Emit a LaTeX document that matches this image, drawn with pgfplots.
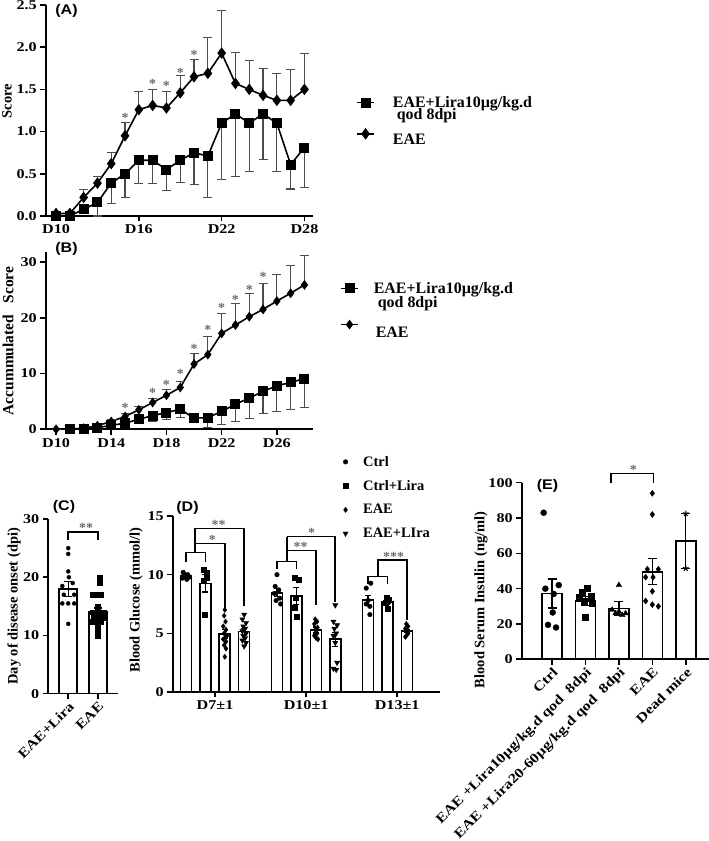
\documentclass[border=0pt]{standalone}
\usepackage{pgfplots}
\pgfplotsset{compat=1.18}
\usepackage{fontspec}
\setmainfont{Liberation Serif}
\newfontfamily\tickfont{Liberation Serif}[FakeStretch=1.2]
\newfontfamily\arialfont{Liberation Sans}[FakeStretch=1.15]
\definecolor{stargray}{gray}{0.42}
\definecolor{errgray}{gray}{0.3}
\newcommand{\tf}{\tickfont\bfseries\fontsize{13.5}{13.5}\selectfont}
\newcommand{\lf}{\bfseries\fontsize{14.5}{15}\selectfont}
\newcommand{\legf}{\bfseries\fontsize{16}{16}\selectfont}
\newcommand{\pf}{\arialfont\bfseries\fontsize{14}{14}\selectfont}
\tikzset{
  sstar/.style={text=stargray, font=\bfseries\fontsize{14}{14}\selectfont, inner sep=0pt},
  brk/.style={line width=1.6bp, black},
}
\pgfplotsset{
  gp/.style={
    scale only axis, anchor=south west,
    axis lines*=left,
    axis line style={line width=1.6bp,-},
    every tick/.style={black,line width=1.6bp},
    tick align=outside,
    major tick length=5.5bp,
    clip=false,
    /pgf/number format/assume math mode=true,
    tick label style={font=\tf},
    label style={font=\lf},
    legend style={draw=none,fill=none,font=\lf},
    legend cell align=left,
  },
  ebar/.style={/pgfplots/error bars/y explicit, /pgfplots/error bars/y dir=#1,
    /pgfplots/error bars/error bar style={line width=1.1bp, errgray},
    /pgfplots/error bars/error mark options={line width=1.1bp, errgray, mark size=4.5bp, rotate=90}},
  kbar/.style={/pgfplots/error bars/y explicit, /pgfplots/error bars/y dir=both,
    /pgfplots/error bars/error bar style={line width=1.3bp, black},
    /pgfplots/error bars/error mark options={line width=1.3bp, black, mark size=#1, rotate=90}},
  wbar/.style={ybar, bar shift=0pt, bar width=#1, fill=white, draw=black, line width=1.6bp},
}
\begin{document}
\begin{tikzpicture}
\path[use as bounding box] (0,0) rectangle (709bp,841bp);

% ---------------- Panel A ----------------
\begin{axis}[gp, at={(45.7bp,625bp)}, width=267.3bp, height=211bp,
  xmin=9.25, xmax=28.62, ymin=0, ymax=2.5,
  xtick={10,16,22,28}, xticklabels={D10,D16,D22,D28},
  ytick={0,0.5,1,1.5,2,2.5}, yticklabels={0.0,0.5,1.0,1.5,2.0,2.5},
  ylabel={Score}, ylabel style={at={(axis description cs:-0.145,0.545)}, anchor=center},
  legend style={at={(1.15,0.578)}, anchor=north west, font=\legf, row sep=0bp, column sep=10bp, nodes={inner sep=0pt}},
]
\addplot[black, line width=1.6bp, mark=square*, mark size=4.2bp, ebar=minus] coordinates {
(10,0.0) +- (0,0) (11,0.0) +- (0,0) (12,0.08) +- (0,0) (13,0.16) +- (0,0.16)
(14,0.39) +- (0,0.24) (15,0.50) +- (0,0.28) (16,0.66) +- (0,0.27) (17,0.66) +- (0,0.27)
(18,0.55) +- (0,0.25) (19,0.66) +- (0,0.26) (20,0.75) +- (0,0.38) (21,0.71) +- (0,0.49)
(22,1.10) +- (0,0.67) (23,1.21) +- (0,0.74) (24,1.10) +- (0,0.57) (25,1.21) +- (0,0.54)
(26,1.10) +- (0,0.57) (27,0.61) +- (0,0.29) (28,0.81) +- (0,0.47)};
\addlegendentry{\hspace*{8bp}EAE+Lira10µg/kg.d}
\addlegendimage{empty legend}
\addlegendentry{\hspace*{8bp}\ qod 8dpi}
\addplot[black, line width=1.6bp, mark=diamond*, mark size=4.5bp, ebar=plus] coordinates {
(10,0.03) +- (0,0) (11,0.03) +- (0,0) (12,0.22) +- (0,0.09) (13,0.39) +- (0,0.08)
(14,0.62) +- (0,0.13) (15,0.95) +- (0,0.16) (16,1.26) +- (0,0.21) (17,1.31) +- (0,0.19)
(18,1.28) +- (0,0.20) (19,1.46) +- (0,0.20) (20,1.65) +- (0,0.20) (21,1.69) +- (0,0.42)
(22,1.93) +- (0,0.50) (23,1.57) +- (0,0.37) (24,1.50) +- (0,0.34) (25,1.43) +- (0,0.32)
(26,1.37) +- (0,0.32) (27,1.37) +- (0,0.37) (28,1.50) +- (0,0.42)};
\addlegendentry{\rule{0pt}{23.5bp}\hspace*{8bp}EAE}
\node[sstar] at (axis cs:15,1.16) {*};
\node[sstar] at (axis cs:17,1.56) {*};
\node[sstar] at (axis cs:18,1.54) {*};
\node[sstar] at (axis cs:19,1.70) {*};
\node[sstar] at (axis cs:20,1.91) {*};
\end{axis}

% ---------------- Panel B ----------------
\begin{axis}[gp, at={(45.7bp,411.7bp)}, width=267.3bp, height=177.3bp,
  xmin=9.25, xmax=28.62, ymin=0, ymax=31.8,
  xtick={10,14,18,22,26}, xticklabels={D10,D14,D18,D22,D26},
  ytick={0,10,20,30},
  ylabel={Accummulated\ \ \ Score}, ylabel style={font=\bfseries\fontsize{15.5}{16}\selectfont, at={(axis description cs:-0.141,0.498)}, anchor=center},
  legend style={at={(1.09,0.842)}, anchor=north west, font=\legf, row sep=1.5bp, column sep=11bp, nodes={inner sep=0pt}},
]
\addplot[black, line width=1.6bp, mark=square*, mark size=4.2bp, ebar=minus] coordinates {
(11,0) +- (0,0) (12,0.1) +- (0,0) (13,0.3) +- (0,0) (14,0.7) +- (0,0.3)
(15,1.1) +- (0,0.5) (16,1.8) +- (0,0.7) (17,2.45) +- (0,1.05) (18,3.0) +- (0,1.3)
(19,3.6) +- (0,1.5) (20,2.0) +- (0,0.8) (21,2.1) +- (0,1.8) (22,3.2) +- (0,2.3)
(23,4.5) +- (0,3.1) (24,5.6) +- (0,3.6) (25,6.8) +- (0,3.9) (26,7.8) +- (0,4.6)
(27,8.4) +- (0,4.8) (28,9.1) +- (0,5.2)};
\addlegendentry{\hspace*{4bp}EAE+Lira10µg/kg.d}
\addlegendimage{empty legend}
\addlegendentry{\hspace*{4bp}\ qod 8dpi}
\addplot[black, line width=1.6bp, mark=diamond*, mark size=3.6bp, ebar=plus] coordinates {
(10,0) +- (0,0) (11,0.05) +- (0,0) (12,0.2) +- (0,0) (13,0.65) +- (0,0.2)
(14,1.4) +- (0,0.3) (15,2.3) +- (0,0.6) (16,3.5) +- (0,0.6) (17,4.8) +- (0,0.8)
(18,6.1) +- (0,1.0) (19,7.5) +- (0,1.0) (20,11.7) +- (0,1.9) (21,13.4) +- (0,3.2)
(22,17.2) +- (0,3.6) (23,18.7) +- (0,3.9) (24,20.2) +- (0,4.2) (25,21.5) +- (0,4.6)
(26,23.0) +- (0,4.7) (27,24.4) +- (0,5.0) (28,25.9) +- (0,5.3)};
\addlegendentry{\rule{0pt}{27bp}\hspace*{6bp}EAE}
\node[sstar] at (axis cs:15,3.8) {*};
\node[sstar] at (axis cs:17,6.5) {*};
\node[sstar] at (axis cs:18,8.0) {*};
\node[sstar] at (axis cs:19,10.0) {*};
\node[sstar] at (axis cs:20,14.5) {*};
\node[sstar] at (axis cs:21,17.8) {*};
\node[sstar] at (axis cs:22,21.8) {*};
\node[sstar] at (axis cs:23,23.2) {*};
\node[sstar] at (axis cs:24,25.0) {*};
\node[sstar] at (axis cs:25,27.4) {*};
\end{axis}

% ---------------- Panel C ----------------
\begin{axis}[gp, at={(48.3bp,147.3bp)}, width=69.7bp, height=174.7bp,
  xmin=-0.67, xmax=1.67, ymin=0, ymax=30,
  xtick={0,1}, xticklabels={EAE+Lira,EAE},
  xticklabel style={rotate=45, anchor=north east, inner sep=1bp},
  ytick={0,10,20,30},
  ylabel={Day of disease onset (dpi)}, ylabel style={at={(axis description cs:-0.49,0.5)}, anchor=center},
]
\addplot[wbar=18bp, kbar=4bp] coordinates {(0,18) +- (0,1.3) (1,14) +- (0,0.7)};
\addplot[only marks, mark=*, mark size=2bp, black] coordinates {
(0,25) (0,24) (0,21) (0.02,20) (-0.2,18.5) (0.15,19) (-0.15,17) (0.2,17)
(-0.2,15.5) (0,15.5) (0.2,15.5) (0,12)};
\addplot[only marks, mark=square*, mark size=2.4bp, black] coordinates {
(1.05,20) (1.05,19) (0.82,17) (0.96,17) (1.1,17) (1.0,15) (0.82,14) (0.94,14) (1.06,14) (1.18,14)
(0.85,13) (1.0,13) (1.15,13) (0.82,12.3) (0.96,12.3) (1.1,12.3) (1.0,12) (1.0,11) (1.0,10)};
\draw[brk] (axis cs:0,26.4) -- (axis cs:0,27.8) -- (axis cs:1,27.8) -- (axis cs:1,26.4);
\node[sstar] at (axis cs:0.6,28.5) {**};
\end{axis}

% ---------------- Panel D ----------------
\begin{axis}[gp, at={(172.7bp,149bp)}, width=267.3bp, height=176bp,
  xmin=-0.465, xmax=2.47, ymin=0, ymax=15,
  xtick={0,1,2}, xticklabels={D7±1,D10±1,D13±1},
  ytick={0,5,10,15},
  ylabel={Blood Glucose (mmol/l)}, ylabel style={at={(axis description cs:-0.137,0.523)}, anchor=center},
  legend style={at={(0.625,1.364)}, anchor=north west, row sep=8.6bp, column sep=13bp},
]
\addplot[wbar=11bp, kbar=3bp, forget plot] coordinates {(-0.32,9.9) +- (0,0.15) (0.68,8.46) +- (0,0.35) (1.68,7.84) +- (0,0.4)};
\addplot[wbar=11bp, kbar=3bp, forget plot] coordinates {(-0.107,9.26) +- (0,0.75) (0.893,8.18) +- (0,0.7) (1.893,7.7) +- (0,0.2)};
\addplot[wbar=11bp, kbar=3bp, forget plot] coordinates {(0.107,4.95) +- (0,0.35) (1.107,5.28) +- (0,0.25) (2.107,5.2) +- (0,0.15)};
\addplot[wbar=11bp, kbar=3bp, forget plot] coordinates {(0.32,5.15) +- (0,0.27) (1.32,4.5) +- (0,0.6)};
\addplot[only marks, mark=*, mark size=2.3bp, black] coordinates {
(-0.35,10.2) (-0.3,10.0) (-0.33,9.9) (-0.28,9.8) (-0.36,9.7) (-0.31,9.6) (-0.34,10.05)
(0.68,10.0) (0.66,9.0) (0.7,8.7) (0.65,8.4) (0.71,8.0) (0.67,7.8) (0.72,7.5)
(1.66,8.85) (1.71,9.27) (1.68,7.8) (1.7,7.3) (1.66,7.5) (1.7,6.6)};
\addlegendentry{Ctrl}
\addplot[only marks, mark=square*, mark size=2.5bp, black] coordinates {
(-0.13,10.4) (-0.09,10.2) (-0.09,9.7) (-0.12,9.5) (-0.11,6.6)
(0.87,9.75) (0.92,9.6) (0.89,8.0) (0.88,7.2) (0.9,6.4)
(1.88,8.0) (1.91,7.9) (1.9,7.8) (1.87,7.6) (1.9,7.1)};
\addlegendentry{Ctrl+Lira}
\addplot[only marks, mark=diamond*, mark size=2.6bp, black] coordinates {
(0.107,7.0) (0.1,6.5) (0.115,6.0) (0.09,5.6) (0.12,5.3) (0.1,5.0) (0.13,4.8) (0.09,4.5) (0.12,4.3) (0.1,4.0) (0.12,3.7) (0.107,3.0)
(1.1,6.2) (1.12,6.0) (1.09,5.8) (1.125,5.5) (1.1,5.3) (1.12,5.0) (1.09,4.8) (1.11,4.6) (1.13,4.5)
(2.1,5.8) (2.12,5.6) (2.09,5.4) (2.11,5.2) (2.12,5.0) (2.1,4.8) (2.09,4.7)};
\addlegendentry{EAE}
\addplot[only marks, mark=triangle*, mark options={rotate=180}, mark size=3bp, black] coordinates {
(0.32,6.6) (0.3,6.2) (0.34,5.9) (0.31,5.6) (0.33,5.4) (0.3,5.2) (0.34,5.0) (0.31,4.8) (0.33,4.6) (0.3,4.4) (0.34,4.2) (0.32,3.9)
(1.32,7.4) (1.3,6.0) (1.34,5.7) (1.31,5.4) (1.33,5.0) (1.3,4.8) (1.32,4.2) (1.34,2.5) (1.3,2.0) (1.33,1.9)};
\addlegendentry{EAE+LIra}
% brackets group 1
\draw[brk] (axis cs:-0.32,11.1) -- (axis cs:-0.32,11.88) -- (axis cs:-0.107,11.88) -- (axis cs:-0.107,11.1);
\draw[brk] (axis cs:-0.22,11.88) -- (axis cs:-0.22,13.95);
\draw[brk] (axis cs:-0.22,12.67) -- (axis cs:0.107,12.67) -- (axis cs:0.107,7.15);
\draw[brk] (axis cs:-0.22,13.95) -- (axis cs:0.32,13.95) -- (axis cs:0.32,7.3);
\node[sstar] at (axis cs:-0.03,12.95) {*};
\node[sstar] at (axis cs:0.04,14.25) {**};
% group 2
\draw[brk] (axis cs:0.68,10.46) -- (axis cs:0.68,11.11) -- (axis cs:0.893,11.11) -- (axis cs:0.893,10.46);
\draw[brk] (axis cs:0.787,11.11) -- (axis cs:0.787,13.24);
\draw[brk] (axis cs:0.787,12.05) -- (axis cs:1.107,12.05) -- (axis cs:1.107,7.42);
\draw[brk] (axis cs:0.787,13.24) -- (axis cs:1.32,13.24) -- (axis cs:1.32,7.7);
\node[sstar] at (axis cs:0.94,12.35) {**};
\node[sstar] at (axis cs:1.06,13.55) {*};
% group 3
\draw[brk] (axis cs:1.68,9.2) -- (axis cs:1.68,9.83) -- (axis cs:1.893,9.83) -- (axis cs:1.893,9.2);
\draw[brk] (axis cs:1.787,9.83) -- (axis cs:1.787,11.25) -- (axis cs:2.107,11.25) -- (axis cs:2.107,6.14);
\node[sstar] at (axis cs:1.96,11.55) {***};
\end{axis}

% ---------------- Panel E ----------------
\begin{axis}[gp, at={(521.7bp,181.7bp)}, width=187.3bp, height=176.6bp,
  xmin=-0.907, xmax=4.695, ymin=0, ymax=100,
  xtick={0,1,2,3,4},
  xticklabels={Ctrl,{EAE +Lira10µg/kg.d qod\ \ 8dpi},{EAE +Lira20-60µg/kg.d qod\ \ 8dpi},EAE,{Dead mice}},
  xticklabel style={rotate=45, anchor=north east, inner sep=1bp},
  ytick={0,20,40,60,80,100},
  ylabel={Blood Serum Insulin (ng/ml)}, ylabel style={at={(axis description cs:-0.217,0.336)}, anchor=center},
]
\addplot[wbar=20bp, kbar=4.5bp] coordinates {(0,37.3) +- (0,8.2) (1,33) +- (0,2.5) (2,28.8) +- (0,3.8) (3,49.6) +- (0,7.3) (4,67.1) +- (0,15.5)};
\addplot[only marks, mark=*, mark size=3bp, black] coordinates {
(-0.25,83) (-0.2,40) (0.2,42) (0.05,37) (0.02,26.5) (-0.12,19.5) (0.12,18)};
\addplot[only marks, mark=square*, mark size=3bp, black] coordinates {
(1.05,40) (0.9,38) (0.82,35) (1.18,36) (1.2,32) (0.95,33) (1.0,24)};
\addplot[only marks, mark=triangle*, mark size=3.2bp, black] coordinates {
(2.0,42) (1.8,28) (2.0,27) (2.2,26) (1.9,26) (2.1,25)};
\addplot[only marks, mark=diamond*, mark size=3bp, black] coordinates {
(3,94) (3,82) (2.85,51) (3.18,51) (2.8,46.5) (3.02,46.5) (3.0,38.5) (2.8,33) (3.0,31) (3.18,30)};
\addplot[only marks, mark=star, mark size=3bp, line width=1bp, black] coordinates {(4,82.5) (4,51.5)};
\draw[brk] (axis cs:1.757,100) -- (axis cs:1.757,105.3) -- (axis cs:3.03,105.3) -- (axis cs:3.03,100);
\node[sstar] at (axis cs:2.43,107.5) {*};
\end{axis}

% panel letters
\node[font=\pf] at (66.5bp,830bp) {(A)};
\node[font=\pf] at (66.5bp,592bp) {(B)};
\node[font=\pf] at (64bp,334bp) {(C)};
\node[font=\pf] at (187.5bp,333bp) {(D)};
\node[font=\pf] at (547.5bp,355bp) {(E)};
\end{tikzpicture}
\end{document}
